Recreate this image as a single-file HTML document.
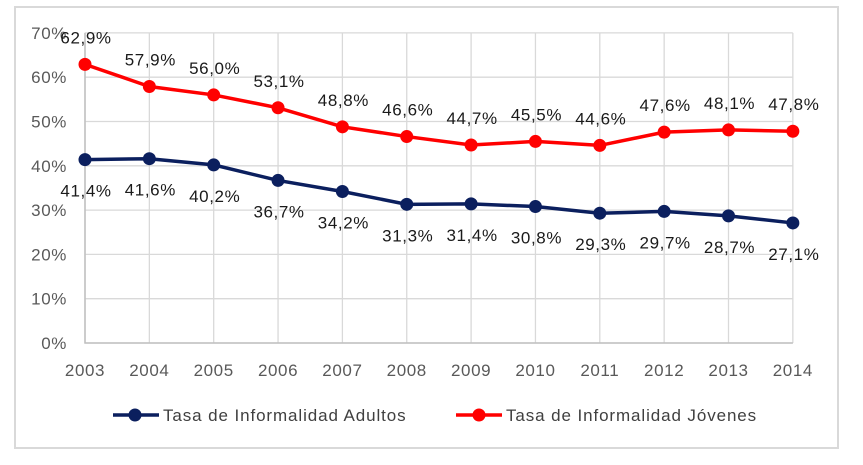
<!DOCTYPE html>
<html><head><meta charset="utf-8"><style>
body{margin:0;background:#fff;font-family:"Liberation Sans",sans-serif}
svg text{font-family:"Liberation Sans",sans-serif;letter-spacing:0.6px}
</style></head><body>
<svg id="c" width="863" height="460">
<rect x="15" y="7" width="823" height="441" fill="#fff" stroke="#d9d9d9" stroke-width="2"/>
<g id="grid"></g><g id="axes"></g><g id="series"></g>
<g>
<g>
<line x1="113" y1="415" x2="159" y2="415" stroke="#0b1f5e" stroke-width="3.5"/>
<circle cx="135" cy="415" r="6.5" fill="#0b1f5e"/>
<text x="163" y="421" font-size="17" fill="#404040" style="letter-spacing:0.9px">Tasa de Informalidad Adultos</text></g>
<g>
<line x1="456" y1="415" x2="502" y2="415" stroke="#ff0000" stroke-width="3.5"/>
<circle cx="479" cy="415" r="6.5" fill="#ff0000"/>
<text x="506" y="421" font-size="17" fill="#404040" style="letter-spacing:0.9px">Tasa de Informalidad Jóvenes</text></g>
</g>
</svg>
<script>
const years=["2003","2004","2005","2006","2007","2008","2009","2010","2011","2012","2013","2014"];
const adultos=[41.4,41.6,40.2,36.7,34.2,31.3,31.4,30.8,29.3,29.7,28.7,27.1];
const jovenes=[62.9,57.9,56.0,53.1,48.8,46.6,44.7,45.5,44.6,47.6,48.1,47.8];
const yTicks=[0,10,20,30,40,50,60,70];
const NS="http://www.w3.org/2000/svg";
const x0=85,dx=64.35,y0=343,ky=4.43;
const X=i=>x0+i*dx, Y=v=>y0-v*ky;
function mk(tag,attrs,parent,txt){const e=document.createElementNS(NS,tag);for(const k in attrs)e.setAttribute(k,attrs[k]);if(txt!==undefined)e.textContent=txt;parent.appendChild(e);return e;}
const grid=document.getElementById('grid'),axes=document.getElementById('axes'),ser=document.getElementById('series');
yTicks.forEach(t=>{
 const l=mk('line',{x1:x0,x2:X(years.length-1),y1:Y(t),y2:Y(t),stroke:'#d9d9d9','stroke-width':1.3},grid);
 
 
 const tx=mk('text',{x:67,y:Y(t)+6,'font-size':17,fill:'#595959','text-anchor':'end'},axes,t+'%');
 
 
});
years.forEach((yr,i)=>{
 const l=mk('line',{x1:X(i),x2:X(i),y1:Y(70),y2:y0,stroke:'#d9d9d9','stroke-width':1.3},grid);
 
 
 const tx=mk('text',{x:X(i),y:376,'font-size':17,fill:'#595959','text-anchor':'middle'},axes,yr);
 
 
});
const ax=mk('path',{d:`M${x0} ${Y(70)}V${y0}H${X(years.length-1)}`,stroke:'#bfbfbf','stroke-width':1.5,fill:'none'},axes);


function draw(vals,color,name,off){
 const p=mk('polyline',{points:vals.map((v,i)=>X(i)+','+Y(v)).join(' '),fill:'none',stroke:color,'stroke-width':3.5},ser);
 
 
 vals.forEach((v,i)=>{
  const c=mk('circle',{cx:X(i),cy:Y(v),r:6.5,fill:color},ser);
  
  
  const t=mk('text',{x:X(i)+1,y:Y(v)+off,'font-size':17,fill:'#1a1a1a','text-anchor':'middle'},ser,v.toFixed(1).replace('.',',')+'%');
  
  
 });
}
draw(adultos,'#0b1f5e','adultos',37);
draw(jovenes,'#ff0000','jovenes',-21);
</script>
</body></html>
